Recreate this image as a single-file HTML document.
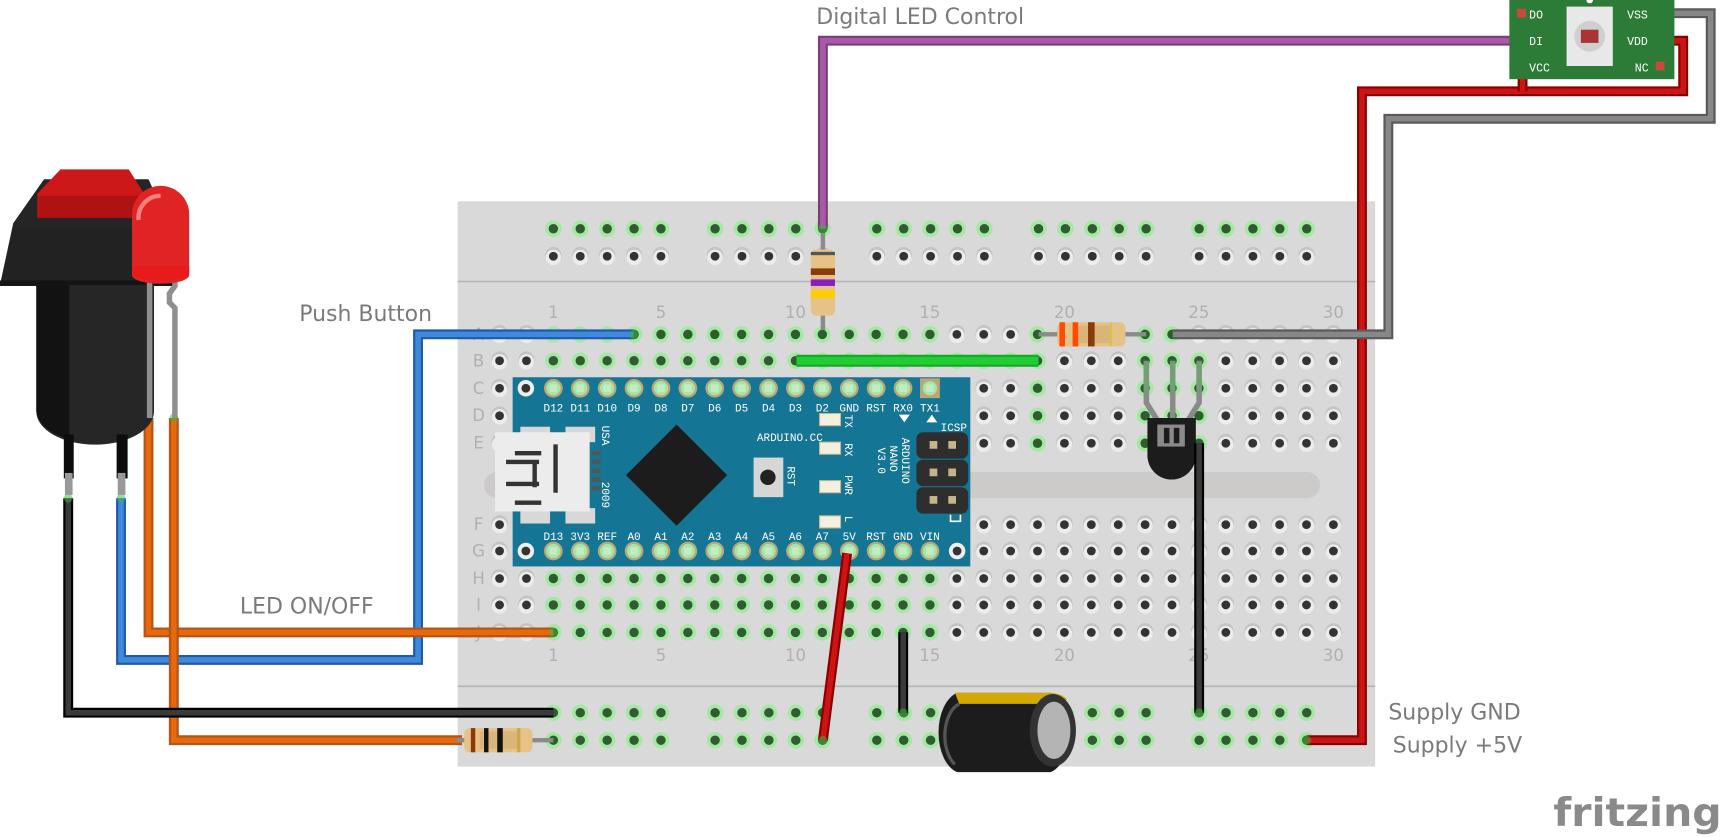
<!DOCTYPE html>
<html><head><meta charset="utf-8">
<style>
html,body{margin:0;padding:0;background:#fff;width:1725px;height:837px;overflow:hidden}
svg{display:block}
.lbl{font-family:"DejaVu Sans","Liberation Sans",sans-serif;fill:#7a7a7a;font-size:20px}
.num{font-family:"DejaVu Sans","Liberation Sans",sans-serif;fill:#b0b0b0;font-size:15px}
.pin{font-family:"Liberation Mono","DejaVu Sans Mono",monospace;fill:#fff;font-size:10px}
.mod{font-family:"Liberation Mono","DejaVu Sans Mono",monospace;fill:#fff;font-size:10.5px}
</style></head>
<body>
<svg id="s" width="1725" height="837" viewBox="0 0 1568 761" preserveAspectRatio="none" xmlns="http://www.w3.org/2000/svg">
<rect x="416" y="183" width="834" height="514" fill="#d9d9d9"/>
<line x1="416" y1="256" x2="1250" y2="256" stroke="#b5b5b5" stroke-width="1.5"/>
<line x1="416" y1="624" x2="1250" y2="624" stroke="#b5b5b5" stroke-width="1.5"/>
<rect x="440" y="429" width="760" height="24" rx="12" fill="#cdcbca"/>
<g id="holes"></g>
<g id="nums"></g>

<rect x="466" y="343" width="416" height="172" fill="#147594"/>
<circle cx="478" cy="353" r="7.5" fill="#eee"/><circle cx="478" cy="353" r="4" fill="#333"/>
<circle cx="478" cy="501" r="7.5" fill="#eee"/><circle cx="478" cy="501" r="4" fill="#333"/>
<circle cx="870" cy="501" r="7.5" fill="#eee"/><circle cx="870" cy="501" r="4" fill="#333"/>
<g id="apins"></g>
<rect x="473" y="388" width="27" height="14" fill="#d8d8d8"/>
<rect x="514" y="388" width="27" height="14" fill="#d8d8d8"/>
<rect x="473" y="462" width="27" height="14" fill="#d8d8d8"/>
<rect x="514" y="462" width="27" height="14" fill="#d8d8d8"/>
<rect x="450" y="393" width="86" height="72" fill="#ececec"/>
<path d="M505 404 v44" stroke="#333" stroke-width="4"/>
<path d="M468 412 h24 M468 457 h24 M486 418 v25 M460 420 h30 M460 440 h30" stroke="#333" stroke-width="4" fill="none"/>
<rect x="538" y="410" width="8" height="4" fill="#555"/><rect x="538" y="418" width="8" height="4" fill="#555"/><rect x="538" y="426" width="8" height="4" fill="#555"/><rect x="538" y="434" width="8" height="4" fill="#555"/><rect x="538" y="442" width="8" height="4" fill="#555"/>
<text class="pin" transform="translate(547,387) rotate(90)">USA</text>
<text class="pin" transform="translate(547,438) rotate(90)">2009</text>
<polygon points="615,386 661,432 615,478 569,432" fill="#1c1c1c"/>
<rect x="685" y="416" width="27" height="36" fill="#d6d6d6"/><circle cx="698" cy="434" r="7" fill="#222"/>
<text class="pin" transform="translate(716,424) rotate(90)">RST</text>
<text class="pin" x="688" y="401">ARDUINO.CC</text>
<rect x="745" y="376" width="19" height="11" fill="#f4f0e0" stroke="#c9b98f"/>
<rect x="745" y="402" width="19" height="11" fill="#f4f0e0" stroke="#c9b98f"/>
<rect x="745" y="437" width="19" height="11" fill="#f4f0e0" stroke="#c9b98f"/>
<rect x="745" y="469" width="19" height="11" fill="#f4f0e0" stroke="#c9b98f"/>
<text class="pin" transform="translate(768,377) rotate(90)">TX</text>
<text class="pin" transform="translate(768,403) rotate(90)">RX</text>
<text class="pin" transform="translate(768,432) rotate(90)">PWR</text>
<text class="pin" transform="translate(768,469) rotate(90)">L</text>
<text class="pin" transform="translate(820,398) rotate(90)">ARDUINO</text>
<text class="pin" transform="translate(809,405) rotate(90)">NANO</text>
<text class="pin" transform="translate(798,407) rotate(90)">V3.0</text>
<polygon points="817,377 827,377 822,384" fill="#fff"/>
<polygon points="842,384 852,384 847,377" fill="#fff"/>
<text class="pin" x="855" y="392">ICSP</text>
<g fill="#2e2e2e">
<rect x="833" y="393" width="47" height="24" rx="6"/><rect x="833" y="418" width="47" height="24" rx="6"/><rect x="833" y="443" width="47" height="24" rx="6"/>
</g>
<g fill="#c6b48a">
<rect x="845" y="401" width="7" height="7"/><rect x="862" y="401" width="7" height="7"/>
<rect x="845" y="426" width="7" height="7"/><rect x="862" y="426" width="7" height="7"/>
<rect x="845" y="451" width="7" height="7"/><rect x="862" y="451" width="7" height="7"/>
</g>
<path d="M864 468 v6 h9 v-6" stroke="#fff" stroke-width="1.5" fill="none"/>

<!-- transistor -->
<path d="M1042 328 v38 l10 16 M1066 328 v56 M1090 328 v38 l-10 16" stroke="#8a8a8a" stroke-width="5" fill="none"/>
<path d="M1042 330 v25 M1066 330 v25 M1090 330 v25" stroke="#6fa46f" stroke-width="5" opacity=".8"/>
<path d="M1043 380 h44 v34 a22 22 0 0 1 -44 0 z" fill="#1c1c1c"/>
<rect x="1052" y="386" width="25" height="20" fill="#8a8a8a"/>
<rect x="1058" y="389" width="5" height="14" fill="#1c1c1c"/><rect x="1067" y="389" width="5" height="14" fill="#1c1c1c"/>

<!-- capacitor -->
<path d="M870 630 h85 a22 37 0 0 1 0 72 h-85 a22 37 0 0 1 0 -72 z" fill="#1c1c1c"/>
<path d="M868 630 h88 a20 10 0 0 1 14 6 l-8 4 h-90 z" fill="#d4a800"/>
<ellipse cx="957" cy="664" rx="21" ry="33" fill="#333"/>
<ellipse cx="958" cy="664" rx="15" ry="26" fill="#b4b4b4"/>
<path d="M872 640 a18 30 0 0 0 -4 55" stroke="#555" stroke-width="3" fill="none"/>

<g id="wires" fill="none" stroke-linejoin="miter"></g>
<g id="res"></g>

<rect x="1372" y="0" width="150" height="72" fill="#2c7b36"/>
<rect x="1424" y="6" width="42" height="54" fill="#e8e8e8"/>
<circle cx="1445" cy="33" r="14" fill="#cfcfcf"/>
<rect x="1437" y="27" width="16" height="12" fill="#a33"/>
<rect x="1379" y="8" width="8" height="8" fill="#c94a3a"/>
<rect x="1505" y="56" width="8" height="8" fill="#c94a3a"/>
<text class="mod" x="1390" y="17">DO</text>
<text class="mod" x="1390" y="41">DI</text>
<text class="mod" x="1390" y="65">VCC</text>
<text class="mod" x="1479" y="17">VSS</text>
<text class="mod" x="1479" y="41">VDD</text>
<text class="mod" x="1486" y="65">NC</text>
<circle cx="1445" cy="0" r="3" fill="#fff"/>

<path d="M40 163 h95 l18 40 l4 56 h-157 l12 -56 z" fill="#252525"/>
<path d="M0 259 l12 -52 h141 l4 52 z" fill="#222"/>
<rect x="0" y="255" width="157" height="5" fill="#141414"/>
<path d="M33 259 h107 v115 a53 30 0 0 1 -107 0 z" fill="#262626"/>
<path d="M33 259 h30 v140 a53 30 0 0 1 -30 -25 z" fill="#121212"/>
<rect x="58" y="395" width="9" height="40" fill="#0c0c0c"/>
<rect x="106" y="395" width="10" height="40" fill="#0c0c0c"/>
<rect x="59" y="430" width="7" height="20" fill="#999"/>
<rect x="107" y="430" width="7" height="20" fill="#999"/>
<path d="M55 154 h62 l14 22 v22 h-97 v-22 z" fill="#cc1818"/>
<rect x="35" y="178" width="103" height="20" fill="#ae1212"/>
<path d="M136 240 v140 M159 240 v20 l-5 7 v8 l5 5 v100" stroke="#8f8f8f" stroke-width="5" fill="none"/>
<path d="M120 250 v-55 a26 26 0 0 1 52 0 v55 a26 8 0 0 1 -52 0 z" fill="#e02424"/>
<path d="M120 242 h52 v6 a26 7 0 0 1 -52 0 z" fill="#e81a1a"/>
<path d="M126 200 a20 20 0 0 1 20 -22" stroke="#f28080" stroke-width="4" fill="none"/>

<text class="lbl" x="742" y="22">Digital LED Control</text>
<text class="lbl" x="272" y="292">Push Button</text>
<text class="lbl" x="218" y="558">LED ON/OFF</text>
<text class="lbl" x="1262" y="654">Supply GND</text>
<text class="lbl" x="1266" y="684">Supply +5V</text>
<text x="1412" y="751" font-family="DejaVu Sans,Liberation Sans,sans-serif" font-size="36" font-weight="bold" fill="#8a8a8a" textLength="153" lengthAdjust="spacingAndGlyphs">fritzing</text>
</svg>
<script>
(function(){
var NS="http://www.w3.org/2000/svg";
function el(p,t,a){var e=document.createElementNS(NS,t);for(var k in a)e.setAttribute(k,a[k]);p.appendChild(e);return e;}
function cx(n){return 503+(n-1)*24.45;}
var H=document.getElementById('holes');
function hole(x,y,g){
  if(g){el(H,'circle',{cx:x,cy:y,r:7.5,fill:'#a4e8a4'});el(H,'circle',{cx:x,cy:y,r:4.3,fill:'#2f5d30'});}
  else{el(H,'circle',{cx:x,cy:y-1,r:7.5,fill:'#c4c4c4'});el(H,'circle',{cx:x,cy:y+1,r:7,fill:'#ececec'});el(H,'circle',{cx:x,cy:y,r:4,fill:'#333'});}
}
var starts=[503,650,797,944,1090];
starts.forEach(function(s){for(var i=0;i<5;i++){var x=s+i*24.45;hole(x,208,true);hole(x,233,false);hole(x,648,true);hole(x,673,true);}});
var rows={A:304,B:328,C:353,D:378,E:403,F:477,G:501,H:526,I:550,J:575};
function green(r,c){
  if(c<1)return false;
  if(r=='A')return c<=15||c==19||c==23||c==24;
  if(r=='B')return c<=19||(c>=23&&c<=25);
  if('CDE'.indexOf(r)>=0)return c==19||(c>=23&&c<=25);
  return c<=15;
}
for(var r in rows){for(var c=-1;c<=30;c++){hole(cx(c),rows[r],green(r,c));}}
var N=document.getElementById('nums');
[1,5,10,15,20,25,30].forEach(function(n){var x=cx(n);
 var t=el(N,'text',{x:x,y:289,'class':'num','text-anchor':'middle'});t.textContent=n;
 t=el(N,'text',{x:x,y:601,'class':'num','text-anchor':'middle'});t.textContent=n;});
for(var r2 in rows){var t=el(N,'text',{x:435,y:rows[r2]+5,'class':'num','text-anchor':'middle'});t.textContent=r2;}
var A=document.getElementById('apins');
var topL=['D12','D11','D10','D9','D8','D7','D6','D5','D4','D3','D2','GND','RST','RX0','TX1'];
var botL=['D13','3V3','REF','A0','A1','A2','A3','A4','A5','A6','A7','5V','RST','GND','VIN'];
el(A,'rect',{x:cx(15)-9,y:344,width:18,height:18,fill:'#b8a878'});
for(var i=0;i<15;i++){var x=cx(i+1);
 [353,501].forEach(function(y){el(A,'circle',{cx:x,cy:y,r:8.5,fill:'#b8a878'});el(A,'circle',{cx:x,cy:y,r:6.5,fill:'#a8e4a8'});el(A,'rect',{x:x-3.5,y:y-3.5,width:7,height:7,fill:'#c2ecc2'});});
 var t1=el(A,'text',{x:x,y:374,'class':'pin','text-anchor':'middle'});t1.textContent=topL[i];
 t1=el(A,'text',{x:x,y:491,'class':'pin','text-anchor':'middle'});t1.textContent=botL[i];}
var W=document.getElementById('wires');
function wire(pts,dark,light,w){w=w||7;
 el(W,'polyline',{points:pts,stroke:dark,'stroke-width':w+2});
 el(W,'polyline',{points:pts,stroke:light,'stroke-width':w-2});}
wire('748,208 748,37 1385,37','#7a3f7a','#a95aa6');
wire('576,304 380,304 380,600 110,600 110,453','#2458b0','#3e8bd8');
wire('503,575 135,575 135,380','#b0561a','#e8680a');
wire('158,380 158,673 420,673','#b0561a','#e8680a');
wire('62,453 62,648 503,648','#000','#3a3a3a');
wire('770,503 748,673','#8a0000','#cc1414');
wire('821,575 821,648','#000','#3a3a3a');
wire('1090,403 1090,648','#000','#3a3a3a');
wire('1188,673 1238,673 1238,83 1530,83 1530,37 1510,37','#8a0000','#cc1414');
wire('1384,60 1384,83','#8a0000','#cc1414');
wire('1066,304 1262,304 1262,108 1555,108 1555,12 1510,12','#5a5a5a','#878787');
wire('724,328 944,328','#14a828','#22cc33',9);
[[748,208],[576,304],[503,575],[62,453],[110,453],[135,380],[158,380],[748,673],[1188,673],[1090,648],[821,648],[1384,60],[1384,37]].forEach(function(p){el(W,'circle',{cx:p[0],cy:p[1],r:4,fill:'rgba(60,180,60,.5)'});});
var R=document.getElementById('res');
function resH(x1,x2,y,bx,bands){
 el(R,'line',{x1:x1,y1:y,x2:x2,y2:y,stroke:'#8a8a8a','stroke-width':4});
 el(R,'rect',{x:bx,y:y-11,width:62,height:22,rx:5,fill:'#e6c287'});
 el(R,'rect',{x:bx+14,y:y-8,width:34,height:16,fill:'#d9b57a'});
 bands.forEach(function(b){el(R,'rect',{x:bx+b[0],y:y-11,width:b[1],height:22,fill:b[2]});});}
resH(944,1042,304,961,[[2,5,'#ff4a00'],[14,5,'#ff4a00'],[28,6,'#8b3a0a'],[48,2,'#d9c24a']]);
resH(415,503,673,422,[[6,4,'#8b3a0a'],[18,4,'#111'],[30,5,'#111'],[48,3,'#c9a84a']]);
el(R,'line',{x1:748,y1:212,x2:748,y2:300,stroke:'#8a8a8a','stroke-width':4});
el(R,'rect',{x:737,y:227,width:22,height:60,rx:5,fill:'#e6c287'});
[[229,3,'#555'],[244,6,'#8b3a0a'],[254,6,'#8a1fc0'],[264,7,'#ffcc00']].forEach(function(b){el(R,'rect',{x:737,y:b[0],width:22,height:b[1],fill:b[2]});});
})();
</script>
</body></html>
